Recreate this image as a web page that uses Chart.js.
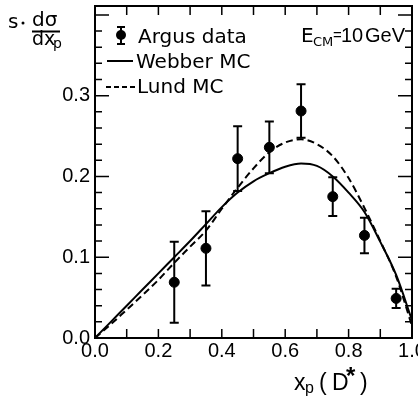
<!DOCTYPE html>
<html><head><meta charset="utf-8">
<script src="https://cdn.jsdelivr.net/npm/chart.js@4"></script>
<style>html,body{margin:0;padding:0;background:#fff}#c{display:block}</style>
</head><body>
<canvas id="c" width="418" height="399"></canvas>
<script>
const argusX = [0.25, 0.35, 0.45, 0.55, 0.65, 0.75, 0.85, 0.95];
const argusY = [0.069, 0.111, 0.222, 0.236, 0.281, 0.175, 0.127, 0.049];
const argusErr = [0.05, 0.046, 0.04, 0.032, 0.033, 0.024, 0.022, 0.012];
const curveX = [0, 0.05, 0.1, 0.15, 0.2, 0.25, 0.3, 0.35, 0.4, 0.45, 0.5, 0.55, 0.6, 0.65, 0.7, 0.75, 0.8, 0.85, 0.9, 0.95, 1.0];
const webberY = [0, 0.02, 0.04, 0.06, 0.08, 0.1, 0.12, 0.141, 0.162, 0.18, 0.194, 0.204, 0.212, 0.216, 0.213, 0.2, 0.18, 0.156, 0.119, 0.078, 0.022];
const lundY = [0, 0.017, 0.035, 0.053, 0.072, 0.093, 0.113, 0.133, 0.16, 0.186, 0.21, 0.23, 0.242, 0.246, 0.24, 0.225, 0.198, 0.161, 0.12, 0.076, 0.015];
const xTickLabels = ['0.0', '0.2', '0.4', '0.6', '0.8', '1.0'];
const yTickLabels = ['0.0', '0.1', '0.2', '0.3'];

const FONT = '"DejaVu Sans", sans-serif';
const HELV = '"Liberation Sans", Arial, sans-serif';
const pts = (xs, ys) => xs.map((x, i) => ({x: x, y: ys[i]}));

const decor = {
  id: 'decor',
  afterDatasetsDraw(chart) {
    const ctx = chart.ctx, xs = chart.scales.x, ys = chart.scales.y, ca = chart.chartArea;
    ctx.save();
    // error bars
    ctx.strokeStyle = '#000'; ctx.lineWidth = 2;
    argusX.forEach((x, i) => {
      const px = xs.getPixelForValue(x);
      const top = ys.getPixelForValue(argusY[i] + argusErr[i]);
      const bot = ys.getPixelForValue(argusY[i] - argusErr[i]);
      ctx.beginPath();
      ctx.moveTo(px, top); ctx.lineTo(px, bot);
      ctx.moveTo(px - 4.5, top); ctx.lineTo(px + 4.5, top);
      ctx.moveTo(px - 4.5, bot); ctx.lineTo(px + 4.5, bot);
      ctx.stroke();
    });
    // frame
    ctx.lineWidth = 2;
    ctx.strokeRect(ca.left, ca.top, ca.right - ca.left, ca.bottom - ca.top);
    // ticks
    ctx.lineWidth = 1.5;
    for (let k = 0; k <= 10; k++) {
      const px = xs.getPixelForValue(k / 10);
      ctx.beginPath();
      ctx.moveTo(px, ca.bottom); ctx.lineTo(px, ca.bottom - 9);
      ctx.moveTo(px, ca.top); ctx.lineTo(px, ca.top + 9);
      ctx.stroke();
    }
    for (let k = 0; k <= 20; k++) {
      const v = k * 0.02;
      if (v > ys.max) break;
      const py = ys.getPixelForValue(v);
      const len = (k % 5 === 0) ? 14 : 7;
      ctx.beginPath();
      ctx.moveTo(ca.left, py); ctx.lineTo(ca.left + len, py);
      ctx.moveTo(ca.right, py); ctx.lineTo(ca.right - len, py);
      ctx.stroke();
    }
    // legend
    ctx.fillStyle = '#000';
    ctx.textBaseline = 'alphabetic'; ctx.textAlign = 'left';
    ctx.font = '20px ' + FONT;
    ctx.lineWidth = 2;
    ctx.beginPath();
    ctx.moveTo(121, 27); ctx.lineTo(121, 44);
    ctx.moveTo(117, 27); ctx.lineTo(125, 27);
    ctx.moveTo(117, 44); ctx.lineTo(125, 44);
    ctx.stroke();
    ctx.beginPath(); ctx.arc(121, 35, 5, 0, Math.PI * 2); ctx.fill();
    ctx.fillText('Argus data', 138, 43);
    ctx.beginPath(); ctx.moveTo(107, 61); ctx.lineTo(133, 61); ctx.stroke();
    ctx.fillText('Webber MC', 136, 68);
    ctx.setLineDash([5, 3]);
    ctx.beginPath(); ctx.moveTo(106, 87); ctx.lineTo(135, 87); ctx.stroke();
    ctx.setLineDash([]);
    ctx.fillText('Lund MC', 137, 93);
    // E_CM
    ctx.font = '20px ' + FONT;
    ctx.fillText('E', 301, 42);
    ctx.font = '13px ' + FONT;
    ctx.fillText('CM', 313, 46);
    ctx.font = '15px ' + HELV;
    ctx.fillText('=', 333, 40);
    ctx.font = '20px ' + HELV;
    ctx.fillText('10', 341, 42);
    ctx.fillText('GeV', 365, 42);
    // y title
    ctx.font = '20px ' + FONT;
    ctx.fillText('s', 8, 28);
    ctx.beginPath(); ctx.arc(23, 23, 1.5, 0, Math.PI * 2); ctx.fill();
    ctx.fillText('d\u03c3', 32, 26);
    ctx.fillRect(32, 30.5, 28, 2);
    ctx.font = '19px ' + FONT;
    ctx.fillText('dx', 32, 45);
    ctx.font = '14px ' + FONT;
    ctx.fillText('p', 53, 48);
    // x title
    ctx.font = '23px ' + HELV;
    ctx.fillText('x', 294, 390);
    ctx.font = '16px ' + HELV;
    ctx.fillText('p', 305, 393);
    ctx.font = '23px ' + HELV;
    ctx.fillText('(', 319, 390);
    ctx.fillText('D', 332, 390);
    ctx.font = 'bold 24px ' + HELV;
    ctx.fillText('*', 346, 384);
    ctx.font = '23px ' + HELV;
    ctx.fillText(')', 360, 390);
    ctx.restore();
  }
};

new Chart(document.getElementById('c'), {
  type: 'scatter',
  data: {
    datasets: [
      {label: 'Argus data', data: pts(argusX, argusY), showLine: false,
       pointRadius: 5, pointBackgroundColor: '#000', pointBorderColor: '#000', order: 0},
      {label: 'Webber MC', data: pts(curveX, webberY), showLine: true, pointRadius: 0,
       borderColor: '#000', borderWidth: 2, cubicInterpolationMode: 'monotone', fill: false},
      {label: 'Lund MC', data: pts(curveX, lundY), showLine: true, pointRadius: 0,
       borderColor: '#000', borderWidth: 2, borderDash: [7, 4], cubicInterpolationMode: 'monotone', fill: false}
    ]
  },
  options: {
    responsive: false, animation: false,
    layout: {padding: {top: 5, right: 2, left: 0, bottom: 0}},
    plugins: {legend: {display: false}, tooltip: {enabled: false}},
    scales: {
      x: {type: 'linear', min: 0, max: 1,
          grid: {display: false, drawTicks: false}, border: {display: false},
          afterFit: s => { s.height = 61; s.paddingLeft = 0; s.paddingRight = 0; },
          afterBuildTicks: s => { s.ticks = xTickLabels.map(t => ({value: parseFloat(t)})); },
          ticks: {color: '#000', font: {family: HELV, size: 20}, padding: 1, maxRotation: 0,
                  callback: (v, i) => xTickLabels[i]}},
      y: {type: 'linear', min: 0, max: 0.411,
          grid: {display: false, drawTicks: false}, border: {display: false},
          afterFit: s => { s.width = 95; s.paddingTop = 0; s.paddingBottom = 0; },
          afterBuildTicks: s => { s.ticks = yTickLabels.map(t => ({value: parseFloat(t)})); },
          ticks: {color: '#000', font: {family: HELV, size: 20}, padding: 5,
                  callback: (v, i) => yTickLabels[i]}}
    }
  },
  plugins: [decor]
});
</script>
</body></html>
